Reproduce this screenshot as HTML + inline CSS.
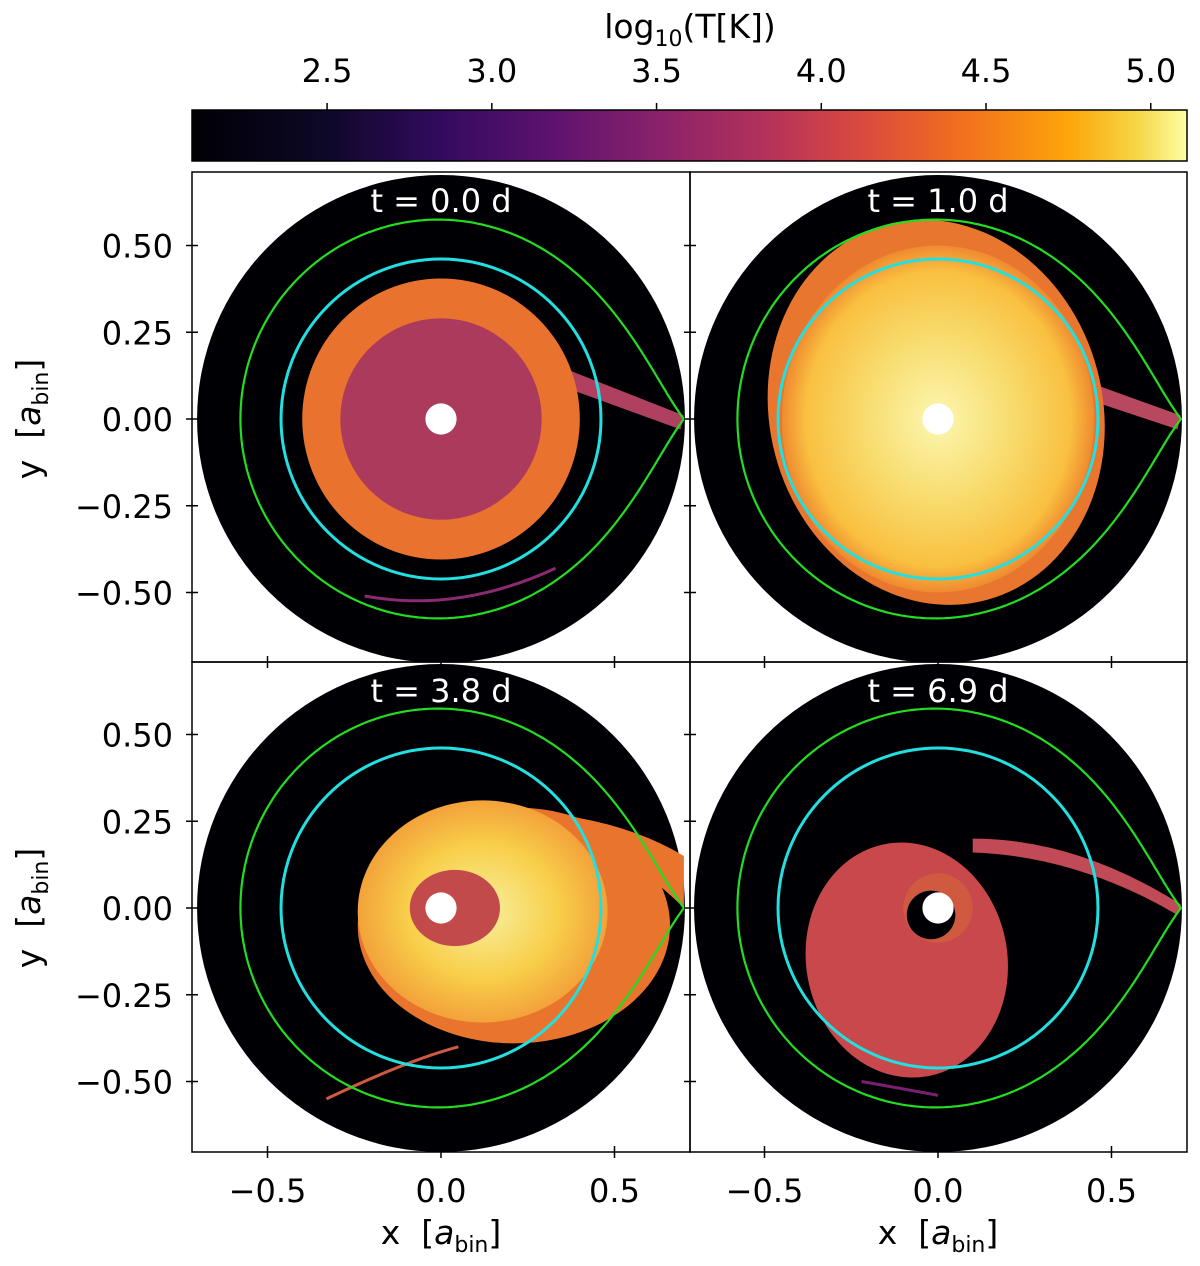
<!DOCTYPE html>
<html><head><meta charset="utf-8"><style>
body{margin:0;background:#fff;}
svg text{font-family:"DejaVu Sans","Liberation Sans",sans-serif;white-space:pre;}
</style></head><body>
<svg id="fig" width="1200" height="1261" viewBox="0 0 1200 1261" xmlns="http://www.w3.org/2000/svg">
<defs>
<linearGradient id="inferno" x1="0" x2="1" y1="0" y2="0">
<stop offset="0" stop-color="#000004"/><stop offset="0.13" stop-color="#0c0826"/>
<stop offset="0.25" stop-color="#330a5f"/><stop offset="0.36" stop-color="#5c126e"/>
<stop offset="0.47" stop-color="#8a226a"/><stop offset="0.58" stop-color="#b5325a"/>
<stop offset="0.68" stop-color="#dc4b3c"/><stop offset="0.78" stop-color="#f3721c"/>
<stop offset="0.88" stop-color="#fca50a"/><stop offset="0.95" stop-color="#f6d646"/>
<stop offset="1" stop-color="#fcffa4"/></linearGradient>
<radialGradient id="hot"><stop offset="0" stop-color="#fbf7b0"/><stop offset="0.5" stop-color="#f8da6a"/><stop offset="0.85" stop-color="#f9c040"/><stop offset="1" stop-color="#ef8a30"/></radialGradient>
<radialGradient id="hot3"><stop offset="0" stop-color="#f8f0a0"/><stop offset="0.6" stop-color="#f8cf4a"/><stop offset="1" stop-color="#f3a23a"/></radialGradient>
<clipPath id="c1"><rect x="192" y="172" width="498" height="490"/></clipPath>
<clipPath id="c2"><rect x="690" y="172" width="497" height="490"/></clipPath>
<clipPath id="c3"><rect x="192" y="662" width="498" height="490"/></clipPath>
<clipPath id="c4"><rect x="690" y="662" width="497" height="490"/></clipPath>
</defs>
<g id="cbar">
<rect x="192" y="110" width="995" height="51" fill="url(#inferno)" stroke="#000" stroke-width="1.5"/>
</g>
<text x="690" y="38" font-size="33" text-anchor="middle">log<tspan font-size="22" dy="8">10</tspan><tspan dy="-8">(T[K])</tspan></text>
<g id="panels"></g>
<g id="axes"></g>
</svg>
<script>
const cbarTicks=[2.5,3.0,3.5,4.0,4.5,5.0];
const cbarMin=2.09, cbarMax=5.11;
const xTicks=[-0.5,0.0,0.5];
const yTicks=[0.5,0.25,0.0,-0.25,-0.5];
const times=["0.0","1.0","3.8","6.9"];
const outerR=0.703, roche=0.578, cusp=0.70, cyanR=0.461, holeR=0.045;
const NS="http://www.w3.org/2000/svg";
const svg=document.getElementById('fig');
function mk(t,a,p){const e=document.createElementNS(NS,t);for(const k in a)e.setAttribute(k,a[k]);(p||svg).appendChild(e);return e;}
const cx=v=>192+(v-cbarMin)/(cbarMax-cbarMin)*995;
const cb=document.getElementById('cbar');
cbarTicks.forEach(v=>{
 mk('line',{x1:cx(v),x2:cx(v),y1:110,y2:103,stroke:'#000','stroke-width':1.5},cb);
 const t=mk('text',{x:cx(v),y:82,'font-size':32,'text-anchor':'middle'},cb);t.textContent=v.toFixed(1);
 
 
});
const S=347;
const P=[{x0:192,y0:172,ox:441,oy:419},{x0:690,y0:172,ox:938,oy:419},{x0:192,y0:662,ox:441,oy:908},{x0:690,y0:662,ox:938,oy:908}];
const pg=document.getElementById('panels'), ax=document.getElementById('axes');
P.forEach((p,i)=>{
 const g=mk('g',{'clip-path':`url(#c${i+1})`},pg);
 
 
 const X=v=>p.ox+v*S, Y=v=>p.oy-v*S;
 mk('circle',{cx:X(0),cy:Y(0),r:outerR*S,fill:'#000004'},g);
 if(i==0){
  mk('path',{d:`M${X(0.37)},${Y(0.14)} L${X(0.70)},${Y(0.01)} L${X(0.69)},${Y(-0.03)} L${X(0.36)},${Y(0.09)}Z`,fill:'#b04060'},g);
  mk('ellipse',{cx:X(0.0),cy:Y(0.0),rx:0.40*S,ry:0.405*S,fill:'#e8722e'},g);
  mk('circle',{cx:X(0),cy:Y(0),r:0.29*S,fill:'#ab3a5c'},g);
  mk('path',{d:`M${X(-0.22)},${Y(-0.51)} Q${X(0.05)},${Y(-0.56)} ${X(0.33)},${Y(-0.43)}`,stroke:'#8a2a70','stroke-width':3,fill:'none'},g);
 }else if(i==1){
  mk('path',{d:`M${X(0.45)},${Y(0.10)} L${X(0.70)},${Y(0.01)} L${X(0.69)},${Y(-0.03)} L${X(0.45)},${Y(0.05)}Z`,fill:'#b84860'},g);
  mk('ellipse',{cx:X(0.0),cy:Y(0.02),rx:0.48*S,ry:0.56*S,fill:'#e8762e',transform:`rotate(-15 ${X(0)} ${Y(0)})`},g);
  mk('ellipse',{cx:X(0.0),cy:Y(0.0),rx:0.45*S,ry:0.50*S,fill:'url(#hot)'},g);
 }else if(i==2){
  mk('path',{d:`M${X(0.2)},${Y(0.28)} Q${X(0.5)},${Y(0.27)} ${X(0.70)},${Y(0.15)} L${X(0.70)},${Y(0.0)} Q${X(0.5)},${Y(0.2)} ${X(0.3)},${Y(0.2)}Z`,fill:'#e8742e'},g);
  mk('ellipse',{cx:X(0.21),cy:Y(-0.05),rx:0.45*S,ry:0.34*S,fill:'#e8742e'},g);
  mk('ellipse',{cx:X(0.12),cy:Y(-0.01),rx:0.36*S,ry:0.32*S,fill:'url(#hot3)'},g);
  mk('ellipse',{cx:X(0.04),cy:Y(0.0),rx:0.13*S,ry:0.11*S,fill:'#c24a4a'},g);
  mk('path',{d:`M${X(-0.33)},${Y(-0.55)} Q${X(-0.1)},${Y(-0.44)} ${X(0.05)},${Y(-0.4)}`,stroke:'#d05a40','stroke-width':3,fill:'none'},g);
 }else{
  mk('path',{d:`M${X(0.1)},${Y(0.2)} Q${X(0.4)},${Y(0.2)} ${X(0.70)},${Y(0.01)} L${X(0.69)},${Y(-0.02)} Q${X(0.4)},${Y(0.15)} ${X(0.1)},${Y(0.16)}Z`,fill:'#c04a55'},g);
  mk('ellipse',{cx:X(-0.09),cy:Y(-0.15),rx:0.29*S,ry:0.34*S,fill:'#c8484c',transform:`rotate(-10 ${X(-0.09)} ${Y(-0.15)})`},g);
  mk('circle',{cx:X(0),cy:Y(0),r:0.10*S,fill:'#d05a40'},g);
  mk('circle',{cx:X(-0.02),cy:Y(-0.02),r:0.07*S,fill:'#000004'},g);
  mk('path',{d:`M${X(-0.22)},${Y(-0.5)} Q${X(-0.05)},${Y(-0.53)} ${X(0.0)},${Y(-0.54)}`,stroke:'#7a2070','stroke-width':3,fill:'none'},g);
 }
 mk('circle',{cx:X(0),cy:Y(0),r:holeR*S,fill:'#fff'},g);
 let d='';
 for(let k=0;k<=400;k++){
  const a=-Math.PI+2*Math.PI*k/400;
  const e=Math.exp(-2.5*Math.abs(a));
  const xx=roche*Math.cos(a)+(cusp-roche)*e*Math.max(0,Math.cos(a));
  const yy=roche*Math.sin(a)*(1-0.3*e);
  d+=(k?'L':'M')+X(xx).toFixed(1)+','+Y(yy).toFixed(1)+' ';
 }
 mk('path',{d:d+'Z',stroke:'#22dd22','stroke-width':2.2,fill:'none'},g);
 mk('circle',{cx:X(0),cy:Y(0),r:cyanR*S,stroke:'#22e0e0','stroke-width':3,fill:'none'},g);
 const tt=mk('text',{x:X(0),y:p.y0+40,'font-size':32,fill:'#fff','text-anchor':'middle'},pg);
 tt.textContent='t = '+times[i]+' d';
 
 
 mk('rect',{x:p.x0,y:p.y0,width:i%2?497:498,height:490,fill:'none',stroke:'#000','stroke-width':1.5},ax);
 xTicks.forEach(v=>{
  mk('line',{x1:X(v),x2:X(v),y1:p.y0+490-6,y2:p.y0+490+6,stroke:'#000','stroke-width':1.5},ax);
  if(i>=2){const t=mk('text',{x:X(v),y:1202,'font-size':32,'text-anchor':'middle'},ax);t.textContent=v==0?'0.0':(v<0?'\u2212':'')+Math.abs(v).toFixed(1);
   
   }
 });
 yTicks.forEach(v=>{
  mk('line',{x1:p.x0-6,x2:p.x0+6,y1:Y(v),y2:Y(v),stroke:'#000','stroke-width':1.5},ax);
  if(i%2==0){const t=mk('text',{x:173,y:Y(v)+12,'font-size':32,'text-anchor':'end'},ax);t.textContent=(v<0?'\u2212':'')+Math.abs(v).toFixed(2);
   
   }
 });
});
[[441,1244],[938,1244]].forEach(([x,y])=>{const t=mk('text',{x:x,y:y,'font-size':33,'text-anchor':'middle'},ax);t.innerHTML='x  [<tspan font-style="italic">a</tspan><tspan font-size="22" dy="8">bin</tspan><tspan dy="-8">]</tspan>';
 
 });
[419,908].forEach(y=>{const t=mk('text',{x:40,y:y,'font-size':33,'text-anchor':'middle',transform:`rotate(-90 40 ${y})`},ax);t.innerHTML='y  [<tspan font-style="italic">a</tspan><tspan font-size="22" dy="8">bin</tspan><tspan dy="-8">]</tspan>';
 
 });
</script>
</body></html>
